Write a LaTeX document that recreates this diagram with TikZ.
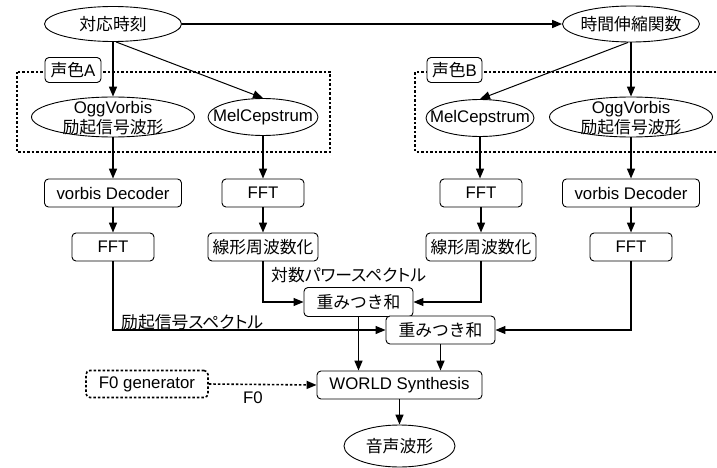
\documentclass[tikz,border=0pt]{standalone}
\usepackage{fontspec}
\setmainfont{Liberation Sans}
\newfontfamily\jp{Noto Sans CJK JP}
\newfontfamily\jpp[RawFeature=+palt]{Noto Sans CJK JP}
\usetikzlibrary{arrows.meta,shapes.geometric}
\begin{document}
\begin{tikzpicture}[x=1pt,y=-1pt,
  font=\fontsize{16.8}{20}\selectfont,
  box/.style={draw, rounded corners=4pt, line width=0.9pt, minimum height=28pt, inner sep=0pt, fill=white},
  ell/.style={draw, ellipse, line width=0.9pt, inner sep=0pt},
  txt/.style={inner sep=0pt, align=center},
  arr/.style={-{Triangle[length=10pt,width=8pt]}, line width=1.6pt},
  thinarr/.style={-{Triangle[length=10pt,width=8pt]}, line width=1pt},
  midarr/.style={-{Triangle[length=10pt,width=8pt]}, line width=1.2pt},
  dots/.style={dash pattern=on 2.5pt off 2pt, line width=1.6pt},
  lbl/.style={inner sep=0pt, anchor=west},
]
\fill[white] (0,0) rectangle (717,468);
\useasboundingbox (0,0) rectangle (717,468);

% dotted groups
\draw[dots] (17,72) rectangle (330,152);
\draw[dots] (725,72) -| (415,152) -- (725,152);
\node[box, rounded corners=4pt, minimum width=56pt, minimum height=25pt] (koeA) at (73,70) {{\jp 声色}A};
\node[box, rounded corners=4pt, minimum width=55pt, minimum height=25pt] (koeB) at (454.5,70) {{\jp 声色}B};

% top ellipses
\node[ell, minimum width=137pt, minimum height=35pt] (taiou) at (113,24) {};
\node[txt] (taiouT) at (113,24) {\jp 対応時刻};
\node[ell, minimum width=137pt, minimum height=36pt] (jikan) at (631,24) {};
\node[txt] (jikanT) at (631,24) {\jp 時間伸縮関数};

% voice ellipses
\node[ell, minimum width=163pt, minimum height=40pt] (oggA) at (113,117) {};
\node[txt] (oggAT) at (113,118) {OggVorbis\\{\jp 励起信号波形}};
\node[ell, minimum width=110pt, minimum height=37pt] (melA) at (263,117) {};
\node[txt] (melAT) at (263,117) {MelCepstrum};
\node[ell, minimum width=108pt, minimum height=37pt] (melB) at (480,118) {};
\node[txt] (melBT) at (480,118) {MelCepstrum};
\node[ell, minimum width=163pt, minimum height=40pt] (oggB) at (631,117) {};
\node[txt] (oggBT) at (631,118) {OggVorbis\\{\jp 励起信号波形}};

% boxes
\node[box, minimum width=137pt] (vorA) at (113,193) {vorbis Decoder};
\node[box, minimum width=82pt] (fftA) at (263,193) {FFT};
\node[box, minimum width=82pt] (fftA2) at (113,247) {FFT};
\node[box, minimum width=110pt] (linA) at (263,247) {\jp 線形周波数化};
\node[box, minimum width=82pt] (fftB) at (481,193) {FFT};
\node[box, minimum width=137pt] (vorB) at (631,193) {vorbis Decoder};
\node[box, minimum width=110pt] (linB) at (481,247) {\jp 線形周波数化};
\node[box, minimum width=82pt] (fftB2) at (631,247) {FFT};
\node[box, minimum width=109pt, minimum height=29pt] (sum1) at (358.5,302) {\jp 重みつき和};
\node[box, minimum width=109pt] (sum2) at (440.5,330) {\jp 重みつき和};
\node[box, minimum width=165pt] (world) at (399.5,385) {WORLD Synthesis};
\node[box, dots, minimum width=122pt, minimum height=27pt] (f0) at (147,384) {F0 generator};
\node[ell, minimum width=111pt, minimum height=42pt] (onsei) at (399.5,446) {};
\node[txt] (onseiT) at (399.5,446) {\jp 音声波形};

% labels
\node[lbl] (lblPow) at (271,275) {\jpp 対数パワースペクトル};
\node[lbl] (lblExc) at (121,322) {\jpp 励起信号スペクトル};
\node[txt] (lblF0) at (253,398) {F0};

% connectors
\draw[arr] (taiou.east) -- (jikan.west);
\draw[arr] (taiou.south) -- (oggA.north);
\draw[thinarr] ([xshift=3pt]taiou.south) -- (melA.north);
\draw[thinarr] ([xshift=-3pt]jikan.south) -- (melB.north);
\draw[arr] (jikan.south) -- (oggB.north);

\draw[arr] (oggA.south) -- (vorA.north);
\draw[arr] (vorA.south) -- (fftA2.north);
\draw[arr] (melA.south) -- (fftA.north);
\draw[arr] (fftA.south) -- (linA.north);
\draw[arr] (melB.south) -- (melB.south |- fftB.north);
\draw[arr] (fftB.south) -- (linB.north);
\draw[arr] (oggB.south) -- (vorB.north);
\draw[arr] (vorB.south) -- (fftB2.north);

\draw[midarr] (linA.south) |- (sum1.west);
\draw[midarr] (linB.south) |- (sum1.east);
\draw[midarr] (fftA2.south) |- (sum2.west);
\draw[midarr] (fftB2.south) |- (sum2.east);

\draw[arr] (sum1.south) -- (sum1.south |- world.north);
\draw[arr] (sum2.south) -- (sum2.south |- world.north);
\draw[arr, dots] (f0.east) -- (world.west);
\draw[arr] (world.south) -- (onsei.north);
\end{tikzpicture}
\end{document}
